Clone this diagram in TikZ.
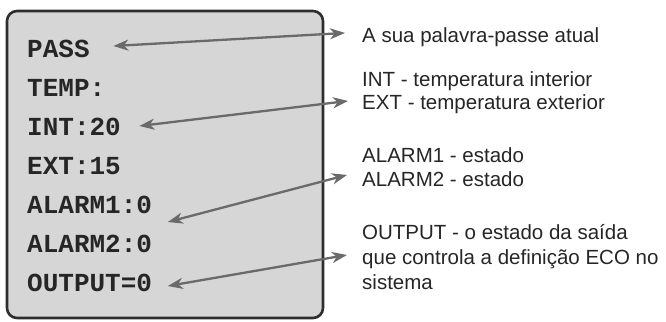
\documentclass[tikz,border=0pt]{standalone}
\usepackage{fontspec}
\setmainfont{Liberation Sans}
\newfontfamily\dispfont{Liberation Mono}
\usepackage{tikz}
\usetikzlibrary{arrows.meta}
\definecolor{panelgray}{HTML}{D6D6D6}
\definecolor{framegray}{HTML}{2E2E2E}
\definecolor{arrowgray}{HTML}{6A6A6A}

\begin{document}
\begin{tikzpicture}[x=1pt,y=-1pt,
  disp/.style={anchor=base west,inner sep=0pt,text height=15pt,text depth=0pt,
    font=\dispfont\bfseries\fontsize{26}{26}\selectfont,text=black!85},
  desc/.style={anchor=base west,inner sep=0pt,text height=14.7pt,text depth=0pt,
    font=\fontsize{20.5}{24}\selectfont,text=black!85},
  pointer/.style={arrowgray,line width=2.3pt,
    {Stealth[length=15pt,width=11pt,inset=4.5pt]}-{Stealth[length=15pt,width=11pt,inset=4.5pt]}}]
\useasboundingbox (0,0) rectangle (666,321);
\draw[rounded corners=10pt,line width=2.6pt,draw=framegray,fill=panelgray] (7,11) rectangle (323,318);

\node[disp] (pass) at (27,57.5) {PASS};
\node[disp] (temp) at (27,96.5) {TEMP:};
\node[disp] (int) at (27,135.5) {INT:20};
\node[disp] (ext) at (27,174.5) {EXT:15};
\node[disp] (alarma) at (27,213.5) {ALARM1:0};
\node[disp] (alarmb) at (27,252.5) {ALARM2:0};
\node[disp] (output) at (27,291.5) {OUTPUT=0};

\node[desc] (passdesc) at (362,42.3) {A sua palavra-passe atual};
\node[desc] (intdesc) at (362,86.3) {INT - temperatura interior};
\node[desc] (extdesc) at (362,109.3) {EXT - temperatura exterior};
\node[desc] (alarmadesc) at (362,162.3) {ALARM1 - estado};
\node[desc] (alarmbdesc) at (362,186.3) {ALARM2 - estado};
\node[desc] (outputdesc) at (362,239.3) {OUTPUT - o estado da saída};
\node[desc] (quedesc) at (362,264.3) {que controla a definição ECO no};
\node[desc] (sisdesc) at (362,289.3) {sistema};

\draw[pointer] ([shift={(23.6,-4)}]pass.east) -- ([shift={(-17,-2)}]passdesc.west);
\draw[pointer] ([shift={(18.4,-2)}]int.east) -- ([shift={(-14,-1)}]extdesc.west);
\draw[pointer] ([shift={(15.6,16)}]alarma.east) -- ([shift={(-15,-4)}]alarmbdesc.west);
\draw[pointer] ([shift={(15.6,2)}]output.east) -- ([shift={(-15,-2)}]quedesc.west);
\end{tikzpicture}
\end{document}
